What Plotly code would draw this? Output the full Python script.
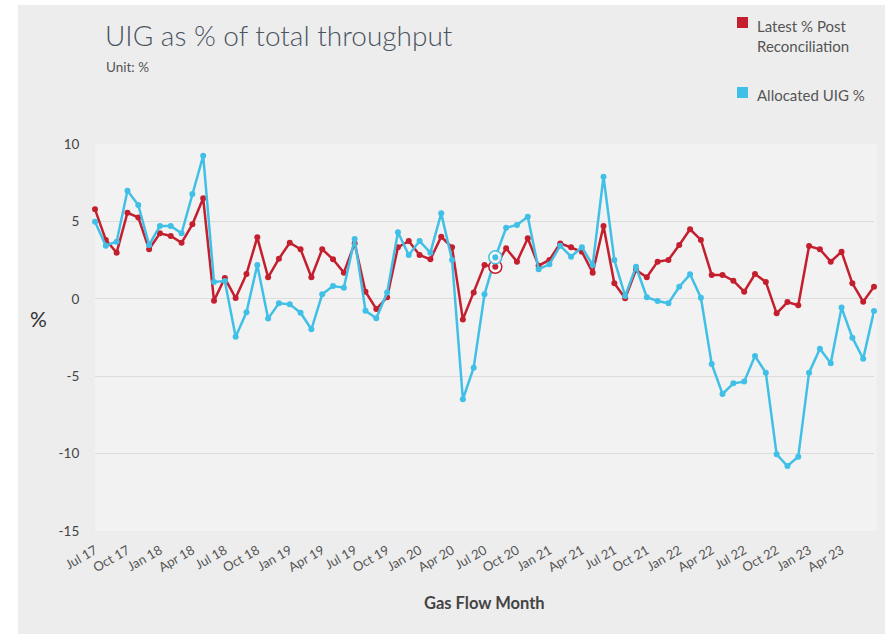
import plotly.graph_objects as go

# ---- data ----
month_names = ["Jan", "Feb", "Mar", "Apr", "May", "Jun", "Jul", "Aug", "Sep", "Oct", "Nov", "Dec"]
months = []
for i in range(73):
    m = (6 + i) % 12
    y = 17 + (6 + i) // 12
    months.append(f"{month_names[m]} {y}")

latest_post_recon = [
    5.78, 3.80, 2.98, 5.56, 5.26, 3.20, 4.23, 4.06, 3.62, 4.81,
    6.49, -0.12, 1.34, 0.05, 1.60, 3.97, 1.39, 2.59, 3.62, 3.20,
    1.39, 3.20, 2.55, 1.69, 3.58, 0.46, -0.66, 0.10, 3.33, 3.73,
    2.83, 2.55, 4.01, 3.33, -1.33, 0.40, 2.18, 2.07, 3.26, 2.40,
    3.91, 2.14, 2.51, 3.58, 3.33, 3.04, 1.69, 4.70, 1.00, 0.03,
    1.86, 1.39, 2.40, 2.51, 3.48, 4.49, 3.80, 1.54, 1.54, 1.17,
    0.46, 1.60, 1.09, -0.94, -0.21, -0.42, 3.41, 3.20, 2.40, 3.04,
    1.00, -0.19, 0.78,
]
allocated_uig = [
    4.98, 3.43, 3.69, 6.98, 6.06, 3.48, 4.70, 4.70, 4.23, 6.77,
    9.24, 1.09, 1.15, -2.45, -0.87, 2.18, -1.28, -0.29, -0.36, -0.90,
    -1.97, 0.29, 0.83, 0.72, 3.86, -0.77, -1.26, 0.40, 4.30, 2.83,
    3.73, 2.98, 5.52, 2.51, -6.49, -4.45, 0.29, 2.68, 4.59, 4.77,
    5.30, 1.91, 2.23, 3.43, 2.72, 3.33, 2.18, 7.89, 2.51, 0.18,
    2.07, 0.10, -0.14, -0.29, 0.78, 1.58, 0.07, -4.21, -6.15, -5.46,
    -5.35, -3.70, -4.77, -10.05, -10.80, -10.20, -4.77, -3.22, -4.17, -0.57,
    -2.51, -3.87, -0.79,
]
tick_labels = months[:70:3]          # Jul 17 ... Apr 23
y_ticks = [10, 5, 0, -5, -10, -15]
y_tick_text = ["10", "5", "0", "-5", "-10", "-15"]
highlight_index = 37

RED = "#c41f2e"
BLUE = "#40c0e6"

# ---- layout helpers (pixel -> paper) ----
L, R, T, B = 95, 874, 144, 531
W, H = 885, 634


def px(x):
    return (x - L) / (R - L)


def py(y):
    return (B - y) / (B - T)


fig = go.Figure()

fig.add_trace(go.Scatter(
    x=months, y=latest_post_recon, mode="lines+markers",
    name="Latest % Post Reconciliation",
    line=dict(color=RED, width=2.5), marker=dict(color=RED, size=6),
    cliponaxis=False, showlegend=False,
))
fig.add_trace(go.Scatter(
    x=months, y=allocated_uig, mode="lines+markers",
    name="Allocated UIG %",
    line=dict(color=BLUE, width=2.5), marker=dict(color=BLUE, size=6),
    cliponaxis=False, showlegend=False,
))
# hover-state halos
for series, col in ((latest_post_recon, RED), (allocated_uig, BLUE)):
    fig.add_trace(go.Scatter(
        x=[months[highlight_index]], y=[series[highlight_index]], mode="markers",
        marker=dict(size=13, color="rgba(255,255,255,0.85)", line=dict(color=col, width=1.5)),
        showlegend=False, hoverinfo="skip", cliponaxis=False,
    ))
    fig.add_trace(go.Scatter(
        x=[months[highlight_index]], y=[series[highlight_index]], mode="markers",
        marker=dict(size=6, color=col),
        showlegend=False, hoverinfo="skip", cliponaxis=False,
    ))

shapes = [
    dict(type="rect", xref="paper", yref="paper", x0=px(18), x1=px(W + 5), y0=py(H + 5), y1=py(5),
         fillcolor="#ededed", line=dict(width=0), layer="below"),
    dict(type="rect", xref="paper", yref="paper", x0=0, x1=px(877), y0=0, y1=1,
         fillcolor="#f2f2f2", line=dict(width=0), layer="below"),
    dict(type="rect", xref="paper", yref="paper", x0=px(737), x1=px(748), y0=py(28), y1=py(17),
         fillcolor=RED, line=dict(width=0)),
    dict(type="rect", xref="paper", yref="paper", x0=px(737), x1=px(748), y0=py(98), y1=py(87),
         fillcolor=BLUE, line=dict(width=0)),
]

TXT = "#555555"
annotations = [
    dict(text="UIG as % of total throughput", xref="paper", yref="paper", x=px(103), y=py(35),
         xanchor="left", yanchor="middle", showarrow=False,
         font=dict(family="Lato", size=28, color="#4a5562", weight=300)),
    dict(text="Unit: %", xref="paper", yref="paper", x=px(104), y=py(67),
         xanchor="left", yanchor="middle", showarrow=False,
         font=dict(family="Lato", size=13.5, color=TXT)),
    dict(text="Latest % Post<br>Reconciliation", xref="paper", yref="paper", x=px(755), y=py(36),
         xanchor="left", yanchor="middle", showarrow=False, align="left",
         font=dict(family="Lato", size=15, color=TXT)),
    dict(text="Allocated UIG %", xref="paper", yref="paper", x=px(755), y=py(95),
         xanchor="left", yanchor="middle", showarrow=False, align="left",
         font=dict(family="Lato", size=15, color=TXT)),
    dict(text="%", xref="paper", yref="paper", x=px(38), y=py(318),
         xanchor="center", yanchor="middle", showarrow=False,
         font=dict(family="Lato", size=21, color="#333333")),
    dict(text="<b>Gas Flow Month</b>", xref="paper", yref="paper", x=0.5, y=py(603),
         xanchor="center", yanchor="middle", showarrow=False,
         font=dict(family="Lato", size=16.5, color="#444444")),
]

fig.update_layout(
    width=W, height=H,
    margin=dict(l=L, r=W - R, t=T, b=H - B),
    paper_bgcolor="#ffffff",
    plot_bgcolor="rgba(0,0,0,0)",
    font=dict(family="Lato", color=TXT),
    showlegend=False,
    shapes=shapes,
    annotations=annotations,
    xaxis=dict(
        type="category", categoryorder="array", categoryarray=months,
        range=[0, len(months) - 1],
        tickmode="array", tickvals=tick_labels, ticktext=tick_labels,
        tickangle=-30, tickfont=dict(size=13, color=TXT),
        showgrid=False, zeroline=False, showline=False,
        ticks="outside", ticklen=6, tickcolor="rgba(0,0,0,0)",
    ),
    yaxis=dict(
        range=[-15, 10], tickmode="array", tickvals=y_ticks, ticktext=y_tick_text,
        gridcolor="#dcdcdc", gridwidth=1,
        zeroline=False, showline=False,
        tickfont=dict(size=13.5, color="#444444"),
        ticks="outside", ticklen=12, tickcolor="rgba(0,0,0,0)",
    ),
)

fig.write_html("out.html", config={"displayModeBar": False},
               post_script="document.body.style.margin='0px';")
